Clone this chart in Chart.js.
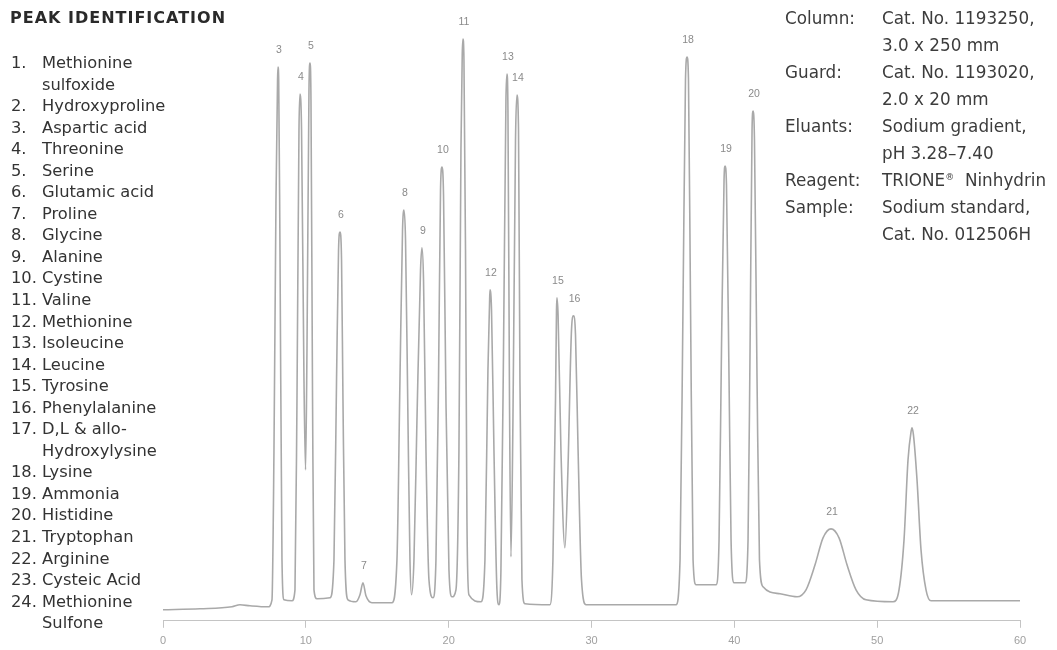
<!DOCTYPE html>
<html>
<head>
<meta charset="utf-8">
<script src="https://cdn.jsdelivr.net/npm/chart.js@4/dist/chart.umd.min.js"></script>
<style>
  html, body { margin: 0; padding: 0; background: #fff; }
  #wrap { position: relative; width: 1057px; height: 650px; overflow: hidden; }
  #c { position: absolute; left: 0; top: 0; }
  .title { position: absolute; left: 10px; top: 8px; font: bold 16px "DejaVu Sans", sans-serif; letter-spacing: 1px; color: #2a2a2a; line-height: 20px; white-space: nowrap; }
  #list { position: absolute; left: 11px; top: 52px; font: 16.3px "DejaVu Sans", sans-serif; color: #333; line-height: 21.54px; white-space: nowrap; }
  #list .num { display: inline-block; width: 31px; }
  #info { position: absolute; left: 785px; top: 5px; font: 16.8px "DejaVu Sans", sans-serif; color: #3c3c3c; line-height: 27px; white-space: nowrap; }
  #info .lab { display: inline-block; width: 97px; }
  #info sup { font-size: 9px; vertical-align: 6px; line-height: 0; }
</style>
</head>
<body>
<div id="wrap">
  <canvas id="c" width="1057" height="650"></canvas>
  <div class="title">PEAK IDENTIFICATION</div>
  <div id="list"></div>
  <div id="info"></div>
</div>
<script>
// ---- data ----
const traceTime = [0.00,2.59,4.83,5.39,6.09,7.35,7.63,7.77,7.91,8.02,8.05,8.10,8.19,8.33,8.47,9.03,9.24,9.38,9.52,9.59,9.70,9.87,9.98,10.08,10.22,10.29,10.36,10.47,10.57,10.78,11.69,11.97,12.15,12.29,12.39,12.50,12.60,12.74,12.95,13.51,13.79,14.00,14.21,14.63,16.03,16.38,16.59,16.77,16.87,16.98,17.15,17.29,17.40,17.57,17.78,18.03,18.13,18.24,18.41,18.62,18.90,19.11,19.29,19.43,19.53,19.64,19.81,20.02,20.23,20.51,20.72,20.86,20.95,21.00,21.07,21.18,21.28,21.42,22.26,22.54,22.75,22.86,22.89,23.00,23.17,23.38,23.52,23.66,23.84,24.01,24.08,24.15,24.26,24.36,24.50,24.68,24.78,24.89,24.99,25.13,25.34,27.09,27.30,27.48,27.55,27.58,27.66,27.86,28.14,28.35,28.60,28.74,28.88,29.06,29.30,29.62,35.92,36.20,36.41,36.58,36.69,36.79,36.93,37.11,37.32,38.72,38.93,39.10,39.28,39.35,39.45,39.63,39.77,39.98,40.75,40.96,41.10,41.24,41.31,41.41,41.59,41.76,42.01,43.20,44.39,45.02,45.65,46.21,46.77,47.33,47.89,48.52,49.22,51.11,51.53,51.88,52.16,52.37,52.44,52.54,52.79,53.07,53.42,53.77,60.00];
const traceSignal = [11,12,14,16,15,14,21,171,421,541,554,541,371,61,21,20,31,221,491,527,491,241,151,271,531,558,521,221,31,22,23,61,241,371,389,361,221,61,21,19,26,38,25,18,18,61,241,391,411,381,201,61,26,61,201,351,373,341,171,41,23,61,241,431,454,426,221,51,24,31,171,471,566,582,561,371,101,26,19,61,251,316,331,311,171,31,16,51,271,521,547,511,221,64,201,481,526,491,241,41,17,16,61,221,311,323,306,171,73,151,291,305,286,171,41,16,16,61,321,541,564,541,321,61,36,36,81,271,441,455,436,241,81,38,38,81,271,491,510,481,241,61,34,27,24,31,56,83,92,83,56,31,21,19,31,81,161,189,193,186,141,71,31,20,20];

const peakNumbers = ['3','4','5','6','7','8','9','10','11','12','13','14','15','16','18','19','20','21','22'];
const peakTimes   = [8.05,9.59,10.29,12.39,14.00,16.87,18.13,19.53,21.00,22.89,24.08,24.78,27.58,28.74,36.69,39.35,41.31,46.77,52.44];
const peakTops    = [554,527,558,389,38,411,373,454,582,331,547,526,323,305,564,455,510,92,193];

const xTicks = [0,10,20,30,40,50,60];

const peakNames = [
  ['1.','Methionine'],['','sulfoxide'],['2.','Hydroxyproline'],['3.','Aspartic acid'],['4.','Threonine'],
  ['5.','Serine'],['6.','Glutamic acid'],['7.','Proline'],['8.','Glycine'],['9.','Alanine'],
  ['10.','Cystine'],['11.','Valine'],['12.','Methionine'],['13.','Isoleucine'],['14.','Leucine'],
  ['15.','Tyrosine'],['16.','Phenylalanine'],['17.','D,L & allo-'],['','Hydroxylysine'],['18.','Lysine'],
  ['19.','Ammonia'],['20.','Histidine'],['21.','Tryptophan'],['22.','Arginine'],['23.','Cysteic Acid'],
  ['24.','Methionine'],['','Sulfone']
];
const infoRows = [
  ['Column:','Cat. No. 1193250,'],['','3.0 x 250 mm'],['Guard:','Cat. No. 1193020,'],['','2.0 x 20 mm'],
  ['Eluants:','Sodium gradient,'],['','pH 3.28\u20137.40'],['Reagent:','TRIONE<sup>\u00AE</sup>&nbsp; Ninhydrin'],
  ['Sample:','Sodium standard,'],['','Cat. No. 012506H']
];

// ---- text blocks ----
document.getElementById('list').innerHTML = peakNames.map(r =>
  '<div><span class="num">' + r[0] + '</span>' + r[1].replace('&', '&amp;') + '</div>').join('');
document.getElementById('info').innerHTML = infoRows.map(r =>
  '<div><span class="lab">' + r[0] + '</span>' + r[1] + '</div>').join('');

// ---- chart ----
const points = traceTime.map((t, i) => ({ x: t, y: traceSignal[i] }));

const peakLabelPlugin = {
  id: 'peakLabels',
  afterDatasetsDraw(chart) {
    const { ctx, scales } = chart;
    ctx.save();
    ctx.font = '10.5px "Liberation Sans", Arial, sans-serif';
    ctx.fillStyle = '#8a8a8a';
    ctx.textAlign = 'center';
    ctx.textBaseline = 'middle';
    peakNumbers.forEach((lab, i) => {
      const px = scales.x.getPixelForValue(peakTimes[i]);
      const py = scales.y.getPixelForValue(peakTops[i]);
      ctx.fillText(lab, px + 1, py - 17);
    });
    ctx.restore();
  }
};

new Chart(document.getElementById('c'), {
  type: 'line',
  data: {
    datasets: [{
      data: points,
      borderColor: '#a9a9a9',
      borderWidth: 1.6,
      pointRadius: 0,
      cubicInterpolationMode: 'monotone',
      fill: false
    }]
  },
  options: {
    responsive: false,
    animation: false,
    events: [],
    layout: { padding: { left: 163, right: 37, top: 21, bottom: -5 } },
    plugins: { legend: { display: false }, tooltip: { enabled: false } },
    scales: {
      x: {
        type: 'linear', min: 0, max: 60,
        afterBuildTicks: (s) => { s.ticks = xTicks.map(v => ({ value: v })); },
        border: { display: true, color: '#c4c4c4', width: 1 },
        grid: { display: true, drawOnChartArea: false, drawTicks: true, tickLength: 7, color: '#c4c4c4' },
        ticks: { color: '#a0a0a0', font: { family: '"Liberation Sans", Arial, sans-serif', size: 11 }, padding: 7, maxRotation: 0 }
      },
      y: { display: false, min: 0, max: 600 }
    }
  },
  plugins: [peakLabelPlugin]
});
</script>
</body>
</html>
